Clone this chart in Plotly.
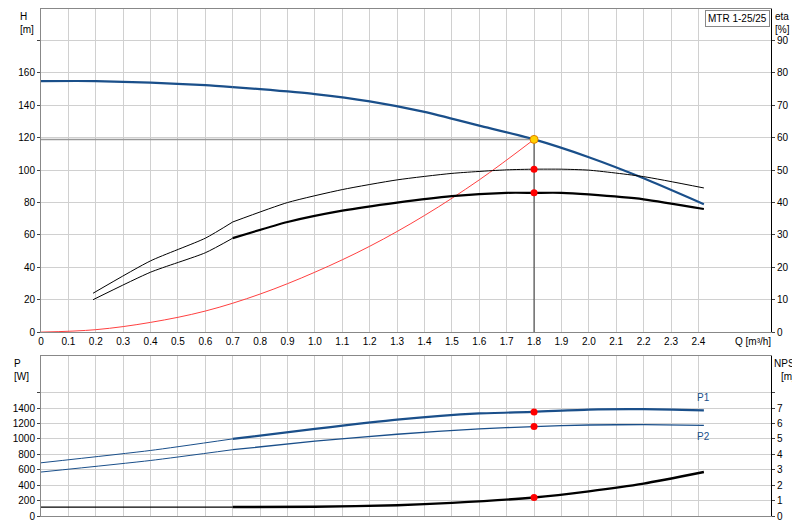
import plotly.graph_objects as go

q_h = [0, 0.2, 0.4, 0.6, 0.7, 0.8, 1.0, 1.2, 1.4, 1.6, 1.8, 2.0, 2.2, 2.42]
h_vals = [155, 155, 154, 152.5, 151.3, 150, 147, 142.5, 136, 127.5, 119, 108, 95, 79]
q_eta = [0.19, 0.4, 0.6, 0.7, 0.9, 1.1, 1.3, 1.5, 1.7, 1.8, 1.9, 2.0, 2.2, 2.42]
eta_pump = [10, 18.5, 24.5, 29, 34, 37.5, 40, 42, 43, 43, 43, 42.5, 41, 38]
eta_hyd = [12, 22, 29, 34, 40, 44, 47, 49, 50.1, 50.3, 50.3, 50, 48, 44.5]
q_sys = [0, 0.2, 0.4, 0.6, 0.8, 1.0, 1.2, 1.4, 1.6, 1.8]
h_sys = [0, 1.5, 6, 13, 23.5, 37, 53, 72, 94, 119]
q_p = [0, 0.4, 0.7, 1.0, 1.3, 1.6, 1.8, 2.0, 2.2, 2.42]
p1 = [690, 850, 1000, 1130, 1250, 1330, 1350, 1380, 1385, 1370]
p2 = [570, 720, 860, 970, 1060, 1130, 1160, 1180, 1185, 1175]
q_npsh = [0, 0.7, 1.0, 1.3, 1.5, 1.8, 2.0, 2.2, 2.42]
npsh = [0.58, 0.58, 0.6, 0.7, 0.85, 1.2, 1.6, 2.1, 2.85]
q_duty, h_duty, eta_duty, etah_duty = 1.8, 119, 43, 50.3
p1_duty, p2_duty, npsh_duty = 1350, 1160, 1.2
x_ticks = [round(i * 0.1, 1) for i in range(25)]
x_labels = ["0"] + [f"{v:.1f}" for v in x_ticks[1:]]

BLUE = "#1a4f8a"
fig = go.Figure()

def split(xs, ys, cut, color, wthin, wthick, xa, ya):
    a = [(x, y) for x, y in zip(xs, ys) if x <= cut]
    b = [(x, y) for x, y in zip(xs, ys) if x >= cut]
    for pts, w in ((a, wthin), (b, wthick)):
        if len(pts) > 1:
            fig.add_trace(go.Scatter(x=[p[0] for p in pts], y=[p[1] for p in pts], mode="lines",
                                     line=dict(color=color, width=w, shape="spline", smoothing=0.6),
                                     xaxis=xa, yaxis=ya, showlegend=False, hoverinfo="skip"))

# top
fig.add_trace(go.Scatter(x=[0, q_duty], y=[h_duty, h_duty], mode="lines",
                         line=dict(color="#999", width=1.5), xaxis="x", yaxis="y", showlegend=False))
fig.add_trace(go.Scatter(x=[q_duty, q_duty], y=[0, h_duty], mode="lines",
                         line=dict(color="#333", width=1), xaxis="x", yaxis="y", showlegend=False))
fig.add_trace(go.Scatter(x=q_sys, y=h_sys, mode="lines", line=dict(color="#ff4040", width=1, shape="spline"),
                         xaxis="x", yaxis="y", showlegend=False))
split(q_h, h_vals, 0.7, BLUE, 2.2, 2.2, "x", "y")
split(q_eta, eta_pump, 0.7, "black", 1, 2.2, "x", "y3")
split(q_eta, eta_hyd, 0.7, "black", 1, 1, "x", "y3")
fig.add_trace(go.Scatter(x=[q_duty, q_duty], y=[eta_duty, etah_duty], mode="markers",
                         marker=dict(color="red", size=7), xaxis="x", yaxis="y3", showlegend=False))
fig.add_trace(go.Scatter(x=[q_duty], y=[h_duty], mode="markers",
                         marker=dict(color="#ffd000", size=8, line=dict(color="#e08000", width=1)),
                         xaxis="x", yaxis="y", showlegend=False))
# bottom
split(q_p, p1, 0.7, BLUE, 1, 2.2, "x2", "y2")
split(q_p, p2, 0.7, BLUE, 1, 1.3, "x2", "y2")
split(q_npsh, npsh, 0.7, "black", 1.3, 2.4, "x2", "y4")
fig.add_trace(go.Scatter(x=[q_duty, q_duty], y=[p1_duty, p2_duty], mode="markers",
                         marker=dict(color="red", size=7), xaxis="x2", yaxis="y2", showlegend=False))
fig.add_trace(go.Scatter(x=[q_duty], y=[npsh_duty], mode="markers",
                         marker=dict(color="red", size=7), xaxis="x2", yaxis="y4", showlegend=False))

grid = "#d0d0d0"
ax_common = dict(range=[0, 2.665], tickvals=x_ticks, showgrid=True, gridcolor=grid, automargin=False,
                 zeroline=False, showline=True, linecolor="#888", mirror=True, ticks="")
top_dom, bot_dom = [0.362, 0.998], [0, 0.315]
fig.update_layout(
    width=800, height=520, margin=dict(l=33, r=37, t=0, b=12),
    paper_bgcolor="white", plot_bgcolor="white",
    font=dict(family="Liberation Sans, Arial", size=10, color="black"),
    xaxis=dict(**ax_common, ticktext=x_labels, anchor="y"),
    xaxis2=dict(**ax_common, showticklabels=False, anchor="y2"),
    yaxis=dict(domain=top_dom, range=[0, 199.5], tickvals=list(range(0, 200, 20)), automargin=False,
               ticktext=[str(v) for v in range(0, 180, 20)] + [""], showgrid=True, gridcolor=grid,
               zeroline=False, showline=True, linecolor="#888", mirror=True, ticks="outside", ticklen=3),
    yaxis3=dict(domain=top_dom, range=[0, 99.75], overlaying="y", side="right", anchor="x", automargin=False,
                tickvals=list(range(0, 100, 10)), showgrid=False, zeroline=False,
                showline=True, linecolor="black", ticks="outside", ticklen=3),
    yaxis2=dict(domain=bot_dom, range=[0, 2075], tickvals=list(range(0, 1800, 200)), automargin=False,
                ticktext=[str(v) for v in range(0, 1600, 200)] + [""], showgrid=True, gridcolor=grid,
                zeroline=False, showline=True, linecolor="#888", mirror=True, ticks="outside", ticklen=3, anchor="x2"),
    yaxis4=dict(domain=bot_dom, range=[0, 10.375], overlaying="y2", side="right", anchor="x2", automargin=False,
                tickvals=list(range(0, 9)), ticktext=[str(v) for v in range(8)] + [""],
                showgrid=False, zeroline=False, showline=True, linecolor="black", ticks="outside", ticklen=3),
)
ann = [
    dict(x=-0.032, y=0.998, text="H<br>[m]", xanchor="left", yanchor="top", align="left"),
    dict(x=1.003, y=0.998, text="eta<br>[%]", xanchor="left", yanchor="top", align="left"),
    dict(x=-0.04, y=0.315, text="P<br>[W]", xanchor="left", yanchor="top", align="left"),
    dict(x=1.001, y=0.315, text="NPSH<br>[m]", xanchor="left", yanchor="top", align="center"),
]
for a in ann:
    fig.add_annotation(xref="paper", yref="paper", showarrow=False, **a)
fig.add_annotation(xref="x", yref="paper", x=2.6, y=0.362, yshift=-9, text="Q [m³/h]", showarrow=False)
fig.add_annotation(xref="paper", yref="paper", x=0.998, y=0.996, xanchor="right", yanchor="top",
                   text="MTR 1-25/25", showarrow=False, bgcolor="white", bordercolor="#888", borderwidth=1, borderpad=2)
fig.add_annotation(xref="x2", yref="y2", x=2.42, y=1385, yshift=12, text="P1", showarrow=False, font=dict(color=BLUE))
fig.add_annotation(xref="x2", yref="y2", x=2.42, y=1175, yshift=-11, text="P2", showarrow=False, font=dict(color=BLUE))
fig.write_html("out.html")
